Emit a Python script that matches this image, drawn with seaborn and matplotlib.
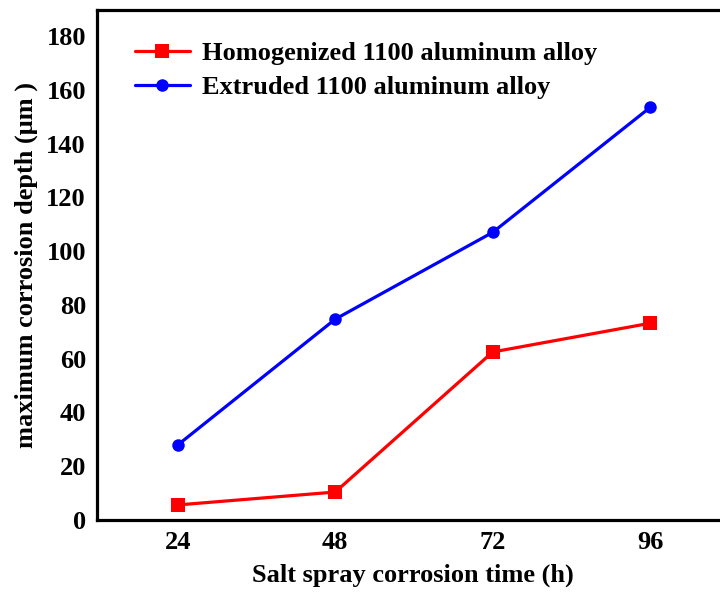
import matplotlib
matplotlib.use("Agg")
import matplotlib.pyplot as plt
import seaborn as sns
import pandas as pd

time_h = [24, 48, 72, 96]
homogenized = [5.6, 10.4, 62.5, 73.2]
extruded = [27.9, 74.7, 107.0, 153.5]
labels = ["Homogenized 1100 aluminum alloy", "Extruded 1100 aluminum alloy"]
yticks = [0, 20, 40, 60, 80, 100, 120, 140, 160, 180]

sns.set_theme(style="white")
plt.rcParams['font.family'] = ['Liberation Serif', 'DejaVu Serif']
plt.rcParams['font.weight'] = 'bold'
plt.rcParams['text.color'] = 'black'
plt.rcParams['axes.labelcolor'] = 'black'
plt.rcParams['xtick.color'] = 'black'
plt.rcParams['ytick.color'] = 'black'

fig = plt.figure(figsize=(7.2, 5.93), dpi=100)
ax = fig.add_axes([97/720, 73/593, 632/720, 510/593])

df1 = pd.DataFrame({"t": time_h, "v": homogenized})
df2 = pd.DataFrame({"t": time_h, "v": extruded})
sns.lineplot(data=df1, x="t", y="v", ax=ax, color="#ff0000", marker="s",
             markersize=10.5, markeredgewidth=0, linewidth=2.3, label=labels[0])
sns.lineplot(data=df2, x="t", y="v", ax=ax, color="#0000ff", marker="o",
             markersize=9, markeredgewidth=0, linewidth=2.3, label=labels[1])

ax.set_xlim(11.7, 108)
ax.set_ylim(0, 189.7)
ax.set_xticks(time_h)
ax.set_yticks(yticks)
ax.tick_params(axis='both', length=0, labelsize=19, pad=8, colors='black')
for lab in ax.get_xticklabels() + ax.get_yticklabels():
    lab.set_fontweight('bold')
ax.set_xlabel("Salt spray corrosion time (h)", fontsize=19, fontweight='bold', labelpad=7)
ax.set_ylabel("maximum corrosion depth (\u03bcm )", fontsize=19, fontweight='bold', labelpad=6)
for s in ax.spines.values():
    s.set_linewidth(2.3)
    s.set_color('black')

leg = ax.legend(loc='upper left', bbox_to_anchor=(0.022, 0.985), frameon=False,
                prop={'size': 19, 'weight': 'bold'}, handlelength=2.1,
                handletextpad=0.45, labelspacing=0.4)
for t in leg.get_texts():
    t.set_color('black')

fig.savefig("out.png", dpi=100)
